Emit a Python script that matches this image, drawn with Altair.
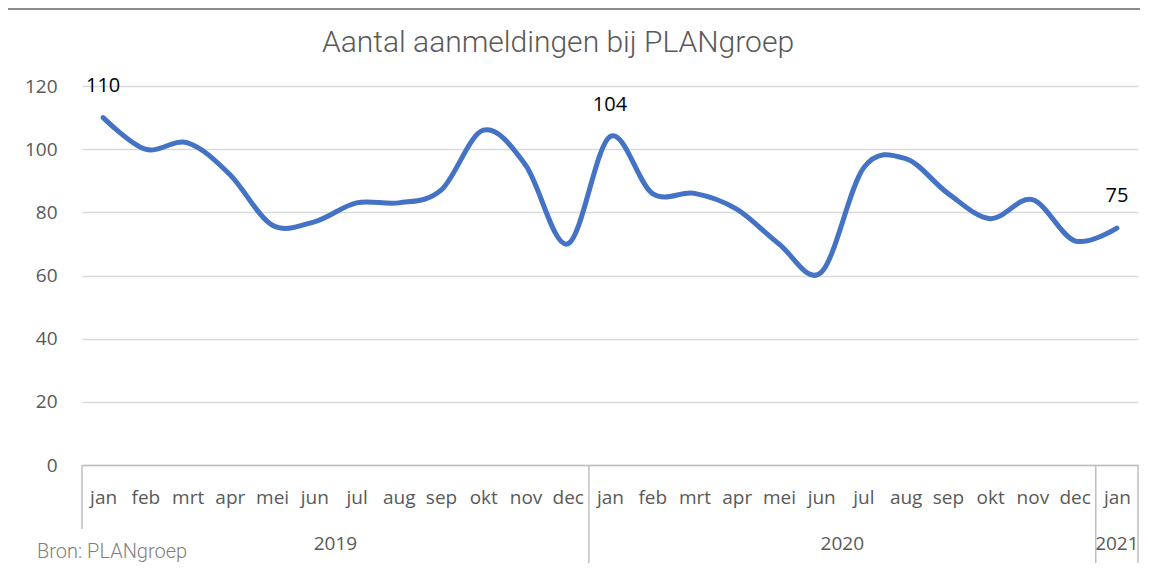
import altair as alt
import pandas as pd

title_text = "Aantal aanmeldingen bij PLANgroep"
source_text = "Bron: PLANgroep"
months = ["jan", "feb", "mrt", "apr", "mei", "jun", "jul", "aug", "sep", "okt", "nov", "dec",
          "jan", "feb", "mrt", "apr", "mei", "jun", "jul", "aug", "sep", "okt", "nov", "dec",
          "jan"]
years = ["2019"] * 12 + ["2020"] * 12 + ["2021"]
values = [110, 100, 102, 92, 76, 77, 83, 83, 87, 106, 95, 70,
          104, 86, 86, 81, 70, 61, 94, 97, 86, 78, 84, 71,
          75]
labelled = [0, 12, 24]

W, H = 1056, 379
GRAY = "#595959"
LINE = "#bfbfbf"

df = pd.DataFrame({"i": list(range(len(values))), "v": values, "m": months, "y": years})
df_lab = df.iloc[labelled]

year_names = list(dict.fromkeys(years))
year_start = [years.index(y) for y in year_names]
year_count = [years.count(y) for y in year_names]
df_years = pd.DataFrame({
    "year": year_names,
    "mid": [s + (c - 1) / 2 for s, c in zip(year_start, year_count)],
})
df_sep = pd.DataFrame({"b": [s - 0.5 for s in year_start[1:]] + [len(years) - 0.5]})
df_left = pd.DataFrame({"b": [-0.5]})

label_expr = "[" + ",".join("'%s'" % m for m in months) + "][datum.value]"

xscale = alt.Scale(domain=[-0.5, len(values) - 0.5], nice=False, zero=False)
yscale = alt.Scale(domain=[0, 120], nice=False)

base = alt.Chart(df)

line = base.mark_line(interpolate="cardinal", color="#4472C4", strokeWidth=5, strokeCap="round").encode(
    x=alt.X("i:Q", scale=xscale, title=None,
            axis=alt.Axis(values=list(range(len(values))), labelExpr=label_expr, ticks=False,
                          grid=False, domain=True, domainColor=LINE, domainWidth=1.5,
                          labelPadding=23, labelFontSize=19, labelColor=GRAY,
                          labelFont="Open Sans")),
    y=alt.Y("v:Q", scale=yscale, title=None,
            axis=alt.Axis(values=[0, 20, 40, 60, 80, 100, 120], ticks=False, domain=False,
                          grid=True, gridColor="#d9d9d9", gridWidth=1.5,
                          labelPadding=25, labelFontSize=19, labelColor=GRAY,
                          labelFont="Open Sans")),
)

labels = alt.Chart(df_lab).mark_text(baseline="bottom", dy=-22, fontSize=20, color="black",
                                     font="Open Sans").encode(
    x=alt.X("i:Q", scale=xscale), y=alt.Y("v:Q", scale=yscale), text="v:Q")

year_text = alt.Chart(df_years).mark_text(baseline="middle", fontSize=19, color=GRAY,
                                          font="Open Sans").encode(
    x=alt.X("mid:Q", scale=xscale), y=alt.value(H + 79), text="year:N")

seps = alt.Chart(df_sep).mark_rule(color=LINE, strokeWidth=1.5).encode(
    x=alt.X("b:Q", scale=xscale), y=alt.value(H), y2=alt.value(H + 98))
left_sep = alt.Chart(df_left).mark_rule(color=LINE, strokeWidth=1.5).encode(
    x=alt.X("b:Q", scale=xscale), y=alt.value(H), y2=alt.value(H + 64))

src = alt.Chart(pd.DataFrame({"t": [source_text]})).mark_text(
    align="left", baseline="middle", fontSize=20, color="#7f7f7f", font="Roboto", fontWeight=300
).encode(x=alt.value(-45), y=alt.value(H + 87), text="t:N")

ttl = alt.Chart(pd.DataFrame({"t": [title_text]})).mark_text(
    align="center", baseline="middle", fontSize=30, color=GRAY, font="Roboto", fontWeight=300
).encode(x=alt.value(W / 2 - 52), y=alt.value(-43), text="t:N")

frame_top = alt.Chart(pd.DataFrame({"t": [0]})).mark_rect(color="#8c8c8c").encode(
    x=alt.value(-74), x2=alt.value(W + 2), y=alt.value(-78), y2=alt.value(-76))

chart = alt.layer(line, labels, year_text, seps, left_sep, src, ttl, frame_top).properties(
    width=W, height=H,
    autosize=alt.AutoSizeParams(type="none"),
    padding={"left": 74, "top": 78, "right": 2, "bottom": 98},
).configure_view(stroke=None)

chart.save("out.html", embed_options={"renderer": "svg", "actions": False})
